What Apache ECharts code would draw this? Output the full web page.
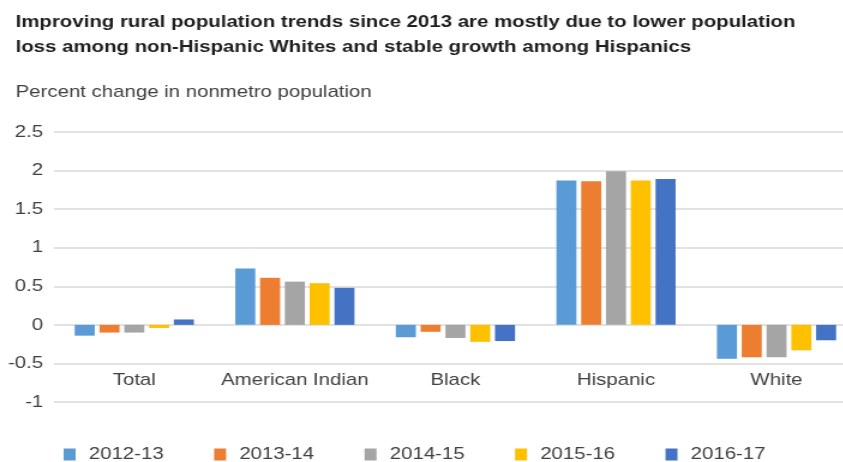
<!DOCTYPE html>
<html>
<head>
<meta charset="utf-8">
<script src="https://cdn.jsdelivr.net/npm/echarts@6/dist/echarts.min.js"></script>
<style>
html,body{margin:0;padding:0;background:#fff;overflow:hidden;width:843px;height:462px}
#c{width:714px;height:462px;transform:scaleX(1.2);transform-origin:0 0}
</style>
</head>
<body>
<div id="c"></div>
<script>
var categories = ['Total', 'American Indian', 'Black', 'Hispanic', 'White'];
var seriesNames = ['2012-13', '2013-14', '2014-15', '2015-16', '2016-17'];
var v2012_13 = [-0.14, 0.73, -0.16, 1.87, -0.44];
var v2013_14 = [-0.10, 0.61, -0.09, 1.86, -0.42];
var v2014_15 = [-0.10, 0.56, -0.17, 1.99, -0.42];
var v2015_16 = [-0.04, 0.54, -0.22, 1.87, -0.33];
var v2016_17 = [0.07, 0.48, -0.21, 1.89, -0.20];
var yTicks = { min: -1, max: 2.5, interval: 0.5 };
var colors = ['#5B9BD5', '#ED7D31', '#A5A5A5', '#FFC000', '#4472C4'];
var values = [v2012_13, v2013_14, v2014_15, v2015_16, v2016_17];

var font = "'Liberation Sans', Arial, sans-serif";
var chart = echarts.init(document.getElementById('c'), null, { renderer: 'canvas' });
chart.setOption({
  animation: false,
  color: colors,
  title: [
    { text: 'Improving rural population trends since 2013 are mostly due to lower population\nloss among non-Hispanic Whites and stable growth among Hispanics',
      left: 8, top: 5,
      textStyle: { fontFamily: font, fontSize: 17, fontWeight: 'bold', color: '#1e1e1e', lineHeight: 25 } },
    { text: 'Percent change in nonmetro population', left: 8, top: 79,
      textStyle: { fontFamily: font, fontSize: 17, fontWeight: 'normal', color: '#404040' } }
  ],
  legend: {
    left: 48, top: 441, itemWidth: 10, itemHeight: 12, itemGap: 42,
    icon: 'rect',
    textStyle: { fontFamily: font, fontSize: 17, color: '#404040', padding: [0, 0, 0, 6] },
    data: seriesNames
  },
  grid: { left: 45, right: 0, top: 132, bottom: 60, containLabel: false, outerBoundsMode: 'none' },
  xAxis: {
    type: 'category', data: categories,
    axisLine: { show: false, onZero: false },
    axisTick: { show: false },
    axisLabel: { inside: true, margin: 13, interval: 0, fontFamily: font, fontSize: 17, color: '#404040' }
  },
  yAxis: {
    type: 'value', min: yTicks.min, max: yTicks.max, interval: yTicks.interval,
    axisLine: { show: false }, axisTick: { show: false },
    splitLine: { lineStyle: { color: '#e2e2e2', width: 2 } },
    axisLabel: { margin: 9, fontFamily: font, fontSize: 17, color: '#404040' }
  },
  series: seriesNames.map(function (n, i) {
    return { name: n, type: 'bar', data: values[i], barWidth: 16.7, barGap: '23.7%' };
  })
});
</script>
</body>
</html>
